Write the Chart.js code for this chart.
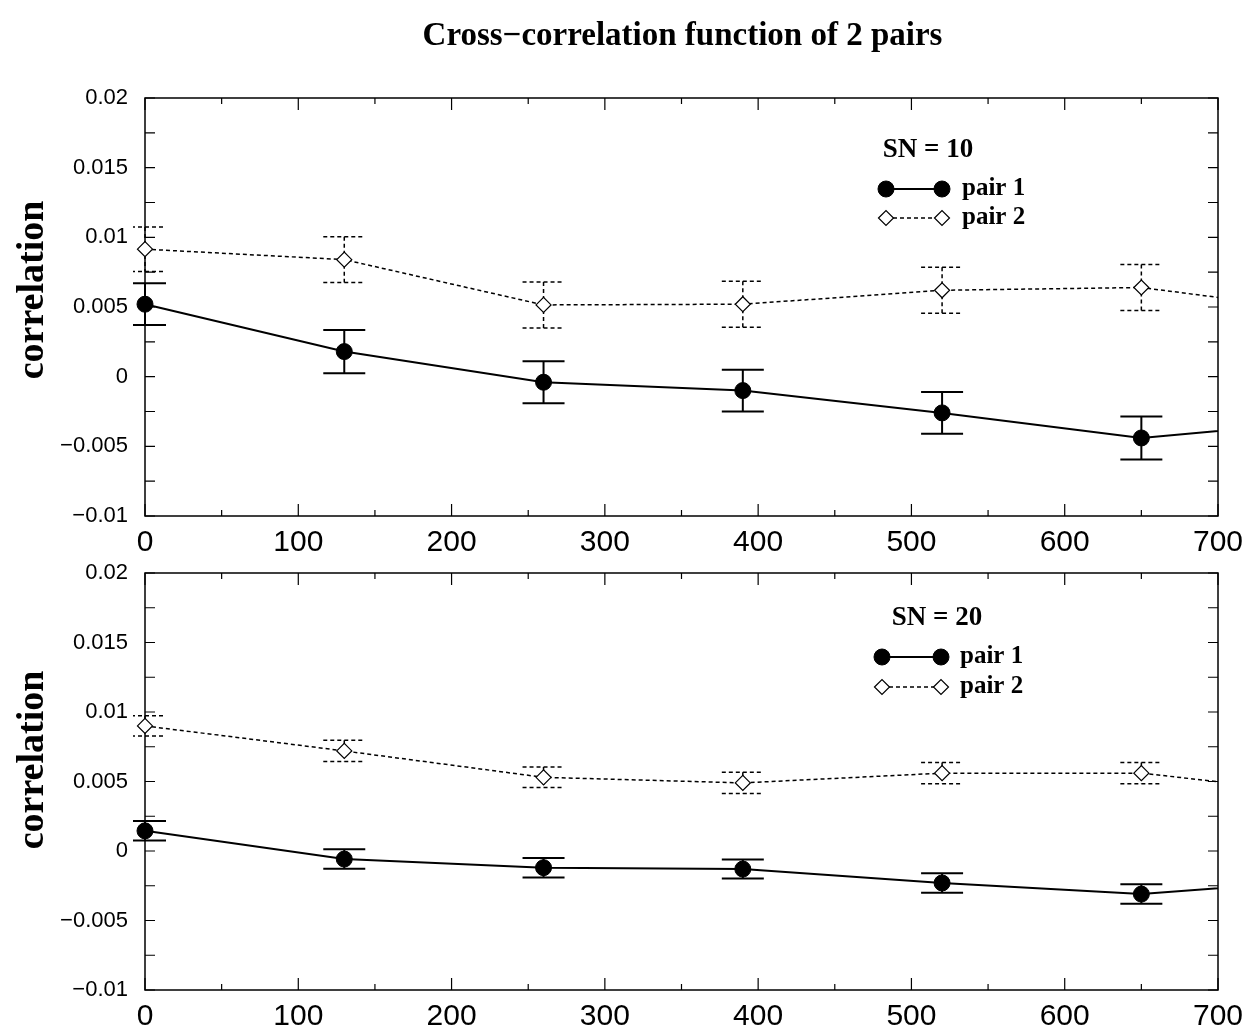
<!DOCTYPE html>
<html>
<head>
<meta charset="utf-8">
<script src="https://cdn.jsdelivr.net/npm/chart.js@4.4.0/dist/chart.umd.min.js"></script>
<style>
  html, body { margin: 0; padding: 0; background: #fff; }
  #page { position: relative; width: 1252px; height: 1034px; }
  .panel { position: absolute; left: 0; width: 1252px; }
  #panelTop { top: 0; height: 560px; }
  #panelBottom { top: 560px; height: 474px; }
</style>
</head>
<body>
<div id="page">
  <div class="panel" id="panelTop"><canvas id="chartSN10"></canvas></div>
  <div class="panel" id="panelBottom"><canvas id="chartSN20"></canvas></div>
</div>
<script>
// lags used by both panels; the last one lies past the axis end, so only the line heading to it shows
const lags = [0, 130, 260, 390, 520, 650, 780];

// SN = 10
const sn10Pair1 = [0.0052, 0.0018, -0.0004, -0.0010, -0.0026, -0.0044, -0.0031];
const sn10Pair1Err = [0.0015, 0.00155, 0.0015, 0.0015, 0.0015, 0.00155, 0.0015];
const sn10Pair2 = [0.00915, 0.0084, 0.00515, 0.0052, 0.0062, 0.0064, 0.00455];
const sn10Pair2Err = [0.0016, 0.00165, 0.00165, 0.00165, 0.00165, 0.00165, 0.00165];

// SN = 20
const sn20Pair1 = [0.00145, -0.00058, -0.0012, -0.0013, -0.0023, -0.0031, -0.0020];
const sn20Pair1Err = [0.0007, 0.0007, 0.0007, 0.00068, 0.0007, 0.0007, 0.0007];
const sn20Pair2 = [0.009, 0.0072, 0.0053, 0.0049, 0.0056, 0.0056, 0.0040];
const sn20Pair2Err = [0.00073, 0.00077, 0.00074, 0.00077, 0.00077, 0.00077, 0.00077];

const xTicks = [0, 100, 200, 300, 400, 500, 600, 700];
const xTickLabels = ['0', '100', '200', '300', '400', '500', '600', '700'];
const yTicks = [-0.01, -0.005, 0, 0.005, 0.01, 0.015, 0.02];
const yTickLabels = ['\u22120.01', '\u22120.005', '0', '0.005', '0.01', '0.015', '0.02'];

const SERIF = '"Liberation Serif", "Times New Roman", serif';
const SANS = '"Liberation Sans", Arial, sans-serif';

// box around the plot with inward ticks on all four sides
const framePlugin = {
  id: 'frame',
  beforeDatasetsDraw(chart) {
    const { ctx, chartArea: a, scales: { x, y } } = chart;
    ctx.save();
    ctx.strokeStyle = '#000';
    ctx.lineWidth = 1.5;
    ctx.strokeRect(a.left, a.top, a.right - a.left, a.bottom - a.top);
    ctx.lineWidth = 1.2;
    ctx.beginPath();
    for (let k = 0; k <= 14; k++) {
      const px = x.getPixelForValue(x.min + k * 50);
      const len = k % 2 === 0 ? 12 : 6;
      ctx.moveTo(px, a.bottom); ctx.lineTo(px, a.bottom - len);
      ctx.moveTo(px, a.top); ctx.lineTo(px, a.top + len);
    }
    for (let k = 0; k <= 12; k++) {
      const py = y.getPixelForValue(y.min + k * 0.0025);
      ctx.moveTo(a.left, py); ctx.lineTo(a.left + 10, py);
      ctx.moveTo(a.right, py); ctx.lineTo(a.right - 10, py);
    }
    ctx.stroke();
    ctx.restore();
  }
};

// vertical error bars with caps, drawn under the markers
const errorBarPlugin = {
  id: 'errorBars',
  beforeDatasetsDraw(chart) {
    const { ctx, chartArea: a, scales: { x, y } } = chart;
    ctx.save();
    ctx.beginPath();
    ctx.rect(a.left - 12, a.top, a.right - a.left + 12, a.bottom - a.top);
    ctx.clip();
    chart.data.datasets.forEach(ds => {
      ctx.strokeStyle = '#000';
      ctx.lineWidth = ds.errorWidth;
      ctx.setLineDash(ds.borderDash || []);
      ctx.beginPath();
      ds.data.forEach((p, i) => {
        const px = x.getPixelForValue(p.x);
        const hi = y.getPixelForValue(p.y + ds.errors[i]);
        const lo = y.getPixelForValue(p.y - ds.errors[i]);
        ctx.moveTo(px, hi); ctx.lineTo(px, lo);
        ctx.moveTo(px - 21, hi); ctx.lineTo(px + 21, hi);
        ctx.moveTo(px - 21, lo); ctx.lineTo(px + 21, lo);
      });
      ctx.stroke();
    });
    ctx.restore();
  }
};

// rotated "correlation" label at the left edge
const sideLabelPlugin = {
  id: 'sideLabel',
  afterDraw(chart, args, opts) {
    const { ctx } = chart;
    ctx.save();
    ctx.translate(opts.x, opts.y);
    ctx.rotate(-Math.PI / 2);
    ctx.font = 'bold 38px ' + SERIF;
    ctx.fillStyle = '#000';
    ctx.textAlign = 'center';
    ctx.textBaseline = 'alphabetic';
    ctx.fillText(opts.text, 0, 0);
    ctx.restore();
  }
};

// heading over the first panel
const headingPlugin = {
  id: 'heading',
  afterDraw(chart, args, opts) {
    if (!opts.text) return;
    const { ctx, chartArea: a } = chart;
    ctx.save();
    ctx.font = 'bold 33px ' + SERIF;
    ctx.fillStyle = '#000';
    ctx.textAlign = 'center';
    ctx.textBaseline = 'alphabetic';
    ctx.fillText(opts.text, (a.left + a.right) / 2 + 1, opts.y);
    ctx.restore();
  }
};

function marker(ctx, ds, x, y) {
  ctx.beginPath();
  if (ds.pointStyle === 'rectRot') {
    const r = ds.pointRadius;
    ctx.moveTo(x - r, y); ctx.lineTo(x, y - r); ctx.lineTo(x + r, y); ctx.lineTo(x, y + r);
    ctx.closePath();
  } else {
    ctx.arc(x, y, ds.pointRadius, 0, Math.PI * 2);
  }
  ctx.fillStyle = ds.pointBackgroundColor;
  ctx.fill();
  ctx.lineWidth = ds.pointBorderWidth;
  ctx.strokeStyle = '#000';
  ctx.stroke();
}

// in-plot key: a heading line and one sample per dataset
const keyPlugin = {
  id: 'key',
  afterDraw(chart, args, opts) {
    const { ctx } = chart;
    ctx.save();
    ctx.fillStyle = '#000';
    ctx.font = 'bold 27px ' + SERIF;
    ctx.textAlign = 'center';
    ctx.textBaseline = 'middle';
    ctx.fillText(opts.title, opts.titleX, opts.titleY);
    chart.data.datasets.forEach((ds, i) => {
      const ry = opts.rowY[i];
      ctx.strokeStyle = '#000';
      ctx.lineWidth = ds.borderWidth;
      ctx.setLineDash(ds.borderDash || []);
      ctx.beginPath();
      ctx.moveTo(opts.x0, ry); ctx.lineTo(opts.x1, ry);
      ctx.stroke();
      ctx.setLineDash([]);
      marker(ctx, ds, opts.x0, ry);
      marker(ctx, ds, opts.x1, ry);
      ctx.fillStyle = '#000';
      ctx.font = 'bold 25px ' + SERIF;
      ctx.textAlign = 'left';
      ctx.fillText(ds.label, opts.textX, ry);
    });
    ctx.restore();
  }
};

function points(values) {
  return lags.map((lag, i) => ({ x: lag, y: values[i] }));
}

function makePanel(canvasId, pair1, err1, pair2, err2, padTop, extra) {
  const clip = { left: 12, top: 12, right: 0, bottom: 12 };
  return new Chart(document.getElementById(canvasId), {
    type: 'line',
    data: {
      datasets: [
        {
          label: 'pair 1',
          data: points(pair1),
          errors: err1,
          errorWidth: 2,
          borderColor: '#000',
          borderWidth: 2,
          pointStyle: 'circle',
          pointRadius: 8,
          pointBackgroundColor: '#000',
          pointBorderColor: '#000',
          pointBorderWidth: 1,
          tension: 0,
          clip
        },
        {
          label: 'pair 2',
          data: points(pair2),
          errors: err2,
          errorWidth: 1.5,
          borderColor: '#000',
          borderWidth: 1.5,
          borderDash: [4, 3],
          pointStyle: 'rectRot',
          pointRadius: 7.5,
          pointBackgroundColor: '#fff',
          pointBorderColor: '#000',
          pointBorderWidth: 1.2,
          tension: 0,
          clip
        }
      ]
    },
    options: {
      responsive: true,
      maintainAspectRatio: false,
      animation: false,
      events: [],
      layout: { padding: { top: padTop, right: 34, left: 0, bottom: 0 } },
      scales: {
        x: {
          type: 'linear',
          min: 0,
          max: 700,
          grid: { display: false, drawTicks: false },
          border: { display: false },
          afterBuildTicks: axis => { axis.ticks = xTicks.map(v => ({ value: v })); },
          ticks: {
            color: '#000',
            padding: 9,
            maxRotation: 0,
            autoSkip: false,
            font: { family: SANS, size: 30 },
            callback: (v, i) => xTickLabels[i]
          },
          afterFit: s => { s.height = 44; s.paddingLeft = 0; s.paddingRight = 0; }
        },
        y: {
          min: -0.01,
          max: 0.02,
          grid: { display: false, drawTicks: false },
          border: { display: false },
          afterBuildTicks: axis => { axis.ticks = yTicks.map(v => ({ value: v })); },
          ticks: {
            color: '#000',
            padding: 17,
            autoSkip: false,
            font: { family: SANS, size: 22 },
            callback: (v, i) => yTickLabels[i]
          },
          afterFit: s => { s.width = 145; s.paddingTop = 0; s.paddingBottom = 0; }
        }
      },
      plugins: Object.assign({
        legend: { display: false },
        tooltip: { enabled: false }
      }, extra)
    },
    plugins: [framePlugin, errorBarPlugin, sideLabelPlugin, headingPlugin, keyPlugin]
  });
}

makePanel('chartSN10', sn10Pair1, sn10Pair1Err, sn10Pair2, sn10Pair2Err, 98, {
  heading: { text: 'Cross\u2212correlation function of 2 pairs', y: 45 },
  sideLabel: { text: 'correlation', x: 43, y: 290 },
  key: { title: 'SN = 10', titleX: 928, titleY: 150, x0: 886, x1: 942, textX: 962, rowY: [189, 218] }
});

makePanel('chartSN20', sn20Pair1, sn20Pair1Err, sn20Pair2, sn20Pair2Err, 13, {
  heading: { text: '' },
  sideLabel: { text: 'correlation', x: 43, y: 200 },
  key: { title: 'SN = 20', titleX: 937, titleY: 58, x0: 882, x1: 941, textX: 960, rowY: [97, 127] }
});
</script>
</body>
</html>
